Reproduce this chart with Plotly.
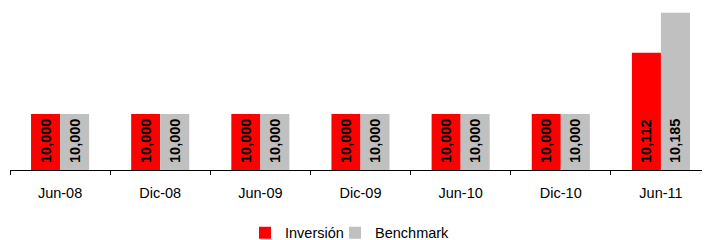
import plotly.graph_objects as go

categories = ["Jun-08", "Dic-08", "Jun-09", "Dic-09", "Jun-10", "Dic-10", "Jun-11"]
inversion = [10000, 10000, 10000, 10000, 10000, 10000, 10112]
benchmark = [10000, 10000, 10000, 10000, 10000, 10000, 10185]
series_names = ["Inversión", "Benchmark"]
axis_min = 9898

fmt = lambda v: "\u00a0" + f"{v:,}"

fig = go.Figure()
for name, vals, col, lg in [(series_names[0], inversion, "#FF0000", "legend"),
                            (series_names[1], benchmark, "#C0C0C0", "legend2")]:
    fig.add_trace(go.Bar(
        x=categories, y=[v - axis_min for v in vals], base=axis_min, name=name, legend=lg,
        marker=dict(color=col, line=dict(width=0)),
        text=[fmt(v) for v in vals], textposition="inside", insidetextanchor="start",
        textangle=-90, constraintext="none",
        textfont=dict(family="Liberation Sans, Arial", size=14.5, color="black", weight="bold"),
        hoverinfo="skip",
    ))

leg_common = dict(orientation="h", y=-0.38, yanchor="middle", xanchor="left",
                  font=dict(size=14.5), itemwidth=30, bgcolor="rgba(0,0,0,0)")

fig.update_layout(
    width=707, height=240,
    margin=dict(l=10, r=5, t=5, b=70, autoexpand=False),
    barmode="group", bargap=0.42, bargroupgap=0,
    plot_bgcolor="white", paper_bgcolor="white",
    font=dict(family="Liberation Sans, Arial", size=14.5, color="black"),
    showlegend=True,
    legend=dict(x=0.3396, **leg_common),
    legend2=dict(x=0.4697, **leg_common),
    xaxis=dict(type="category", range=[-0.5, 6.41], showline=True, linecolor="black", linewidth=1,
               ticks="outside", tickson="boundaries", ticklen=4, tickcolor="black",
               showgrid=False, zeroline=False, automargin=False, ticklabelstandoff=10),
    yaxis=dict(range=[axis_min, 10199], visible=False, showgrid=False, zeroline=False, automargin=False),
)

fig.write_html("out.html", config={"displayModeBar": False},
               post_script="document.body.style.margin='0';document.body.style.overflow='hidden';")
